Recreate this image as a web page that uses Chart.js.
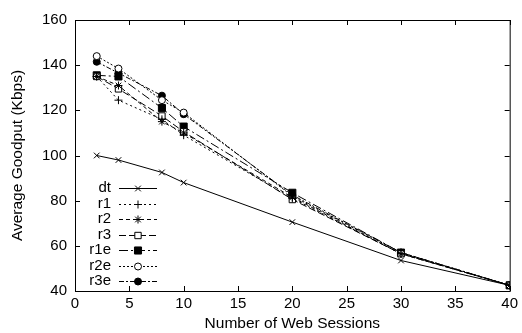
<!DOCTYPE html>
<html>
<head>
  <title>Average Goodput</title>
  <script src="https://cdn.jsdelivr.net/npm/chart.js@4.4.1/dist/chart.umd.min.js"></script>
  <style>
    body { margin: 0; background: #fff; }
    canvas { display: block; }
  </style>
</head>
<body>
  <canvas id="chart" width="522" height="333"></canvas>
  <script>
    // number of web sessions
    const sessions = [2, 4, 8, 10, 20, 30, 40];
    const seriesNames = ['dt', 'r1', 'r2', 'r3', 'r1e', 'r2e', 'r3e'];
    // goodput values (Kbps)
    const dt  = [100, 98, 92.5, 88, 70.5, 53.5, 42.5];
    const r1  = [135, 124.5, 116, 109, 81, 56.5, 42.5];
    const r2  = [135, 131, 115, 110, 81.5, 56.5, 42.5];
    const r3  = [135, 129.5, 117.5, 110.5, 80.5, 56.5, 42.5];
    const r1e = [135.5, 135, 121, 112.8, 83.5, 57, 42.5];
    const r2e = [144, 138.5, 124.5, 119, 82, 57, 42.5];
    const r3e = [141.5, 136.5, 126.5, 118.3, 82.5, 57, 42.5];
    const xTicks = [0, 5, 10, 15, 20, 25, 30, 35, 40];
    const yTicks = [40, 60, 80, 100, 120, 140, 160];

    const values = [dt, r1, r2, r3, r1e, r2e, r3e];
    const styles = [
      { pointStyle: 'crossRot', dash: [], fill: false, r: 4 },
      { pointStyle: 'cross', dash: [2, 3], fill: false, r: 4 },
      { pointStyle: 'star', dash: [4, 3], fill: false, r: 4 },
      { pointStyle: 'rect', dash: [7, 3], fill: false, r: 4.5 },
      { pointStyle: 'rect', dash: [9, 3, 2, 3], fill: true, r: 5 },
      { pointStyle: 'circle', dash: [2, 2], fill: false, r: 3.5 },
      { pointStyle: 'circle', dash: [5, 2, 2, 2], fill: true, r: 3.5 }
    ];

    const datasets = seriesNames.map((name, i) => ({
      label: name,
      data: sessions.map((x, j) => ({ x: x, y: values[i][j] })),
      borderColor: '#000',
      borderWidth: 1,
      borderDash: styles[i].dash,
      pointStyle: styles[i].pointStyle,
      pointRadius: styles[i].r,
      pointBorderColor: '#000',
      pointBorderWidth: 1,
      pointBackgroundColor: styles[i].fill ? '#000' : '#fff',
      tension: 0
    }));

    // frame and inward ticks, gnuplot style
    const framePlugin = {
      id: 'frame',
      afterDraw(chart) {
        const ctx = chart.ctx;
        const a = chart.chartArea;
        const xs = chart.scales.x, ys = chart.scales.y;
        ctx.save();
        ctx.strokeStyle = '#000';
        ctx.lineWidth = 1;
        ctx.setLineDash([]);
        ctx.strokeRect(a.left + 0.5, a.top + 0.5, a.right - a.left, a.bottom - a.top);
        ctx.beginPath();
        xTicks.forEach(v => {
          const px = Math.round(xs.getPixelForValue(v)) + 0.5;
          ctx.moveTo(px, a.bottom); ctx.lineTo(px, a.bottom - 5);
          ctx.moveTo(px, a.top); ctx.lineTo(px, a.top + 5);
        });
        yTicks.forEach(v => {
          const py = Math.round(ys.getPixelForValue(v)) + 0.5;
          ctx.moveTo(a.left, py); ctx.lineTo(a.left + 5, py);
          ctx.moveTo(a.right, py); ctx.lineTo(a.right - 5, py);
        });
        ctx.stroke();
        ctx.restore();
      }
    };

    // legend inside plot: label, then line sample with marker
    const keyPlugin = {
      id: 'key',
      afterDatasetsDraw(chart) {
        const ctx = chart.ctx;
        ctx.save();
        ctx.font = '15px "Liberation Sans", Arial, sans-serif';
        ctx.textAlign = 'right';
        ctx.textBaseline = 'middle';
        chart.data.datasets.forEach((ds, i) => {
          const y = 188 + i * 15.5;
          ctx.fillStyle = '#000';
          ctx.fillText(ds.label, 111, y);
          ctx.strokeStyle = '#000';
          ctx.lineWidth = 1;
          ctx.setLineDash(ds.borderDash);
          ctx.beginPath();
          ctx.moveTo(119, Math.round(y) + 0.5);
          ctx.lineTo(157, Math.round(y) + 0.5);
          ctx.stroke();
          ctx.setLineDash([]);
          ctx.fillStyle = ds.pointBackgroundColor;
          ctx.lineWidth = 1;
          Chart.helpers.drawPoint(ctx, {
            pointStyle: ds.pointStyle,
            radius: ds.pointRadius,
            rotation: 0,
            borderWidth: 1
          }, 138, Math.round(y) + 0.5);
        });
        ctx.restore();
      }
    };

    const font = { family: '"Liberation Sans", Arial, sans-serif', size: 15 };
    const titleFont = { family: '"Liberation Sans", Arial, sans-serif', size: 15.5 };

    new Chart(document.getElementById('chart'), {
      type: 'line',
      data: { datasets: datasets },
      options: {
        responsive: false,
        animation: false,
        layout: { padding: { left: 8, top: 20, right: 10, bottom: 0 } },
        plugins: { legend: { display: false }, tooltip: { enabled: false } },
        scales: {
          x: {
            type: 'linear',
            min: 0,
            max: 40,
            afterBuildTicks(s) { s.ticks = xTicks.map(v => ({ value: v })); },
            afterFit(s) { s.height = 42; },
            grid: { display: false, drawTicks: false },
            border: { display: false },
            ticks: { color: '#000', font: font, padding: 4, maxRotation: 0 },
            title: {
              display: true,
              text: 'Number of Web Sessions',
              color: '#000',
              font: titleFont,
              padding: { top: 1, bottom: 0 }
            }
          },
          y: {
            min: 40,
            max: 160,
            afterBuildTicks(s) { s.ticks = yTicks.map(v => ({ value: v })); },
            afterFit(s) { s.width = 67; },
            grid: { display: false, drawTicks: false },
            border: { display: false },
            ticks: { color: '#000', font: font, padding: 8 },
            title: {
              display: true,
              text: 'Average Goodput (Kbps)',
              color: '#000',
              font: titleFont,
              padding: { top: 0, bottom: 0 }
            }
          }
        }
      },
      plugins: [framePlugin, keyPlugin]
    });
  </script>
</body>
</html>
